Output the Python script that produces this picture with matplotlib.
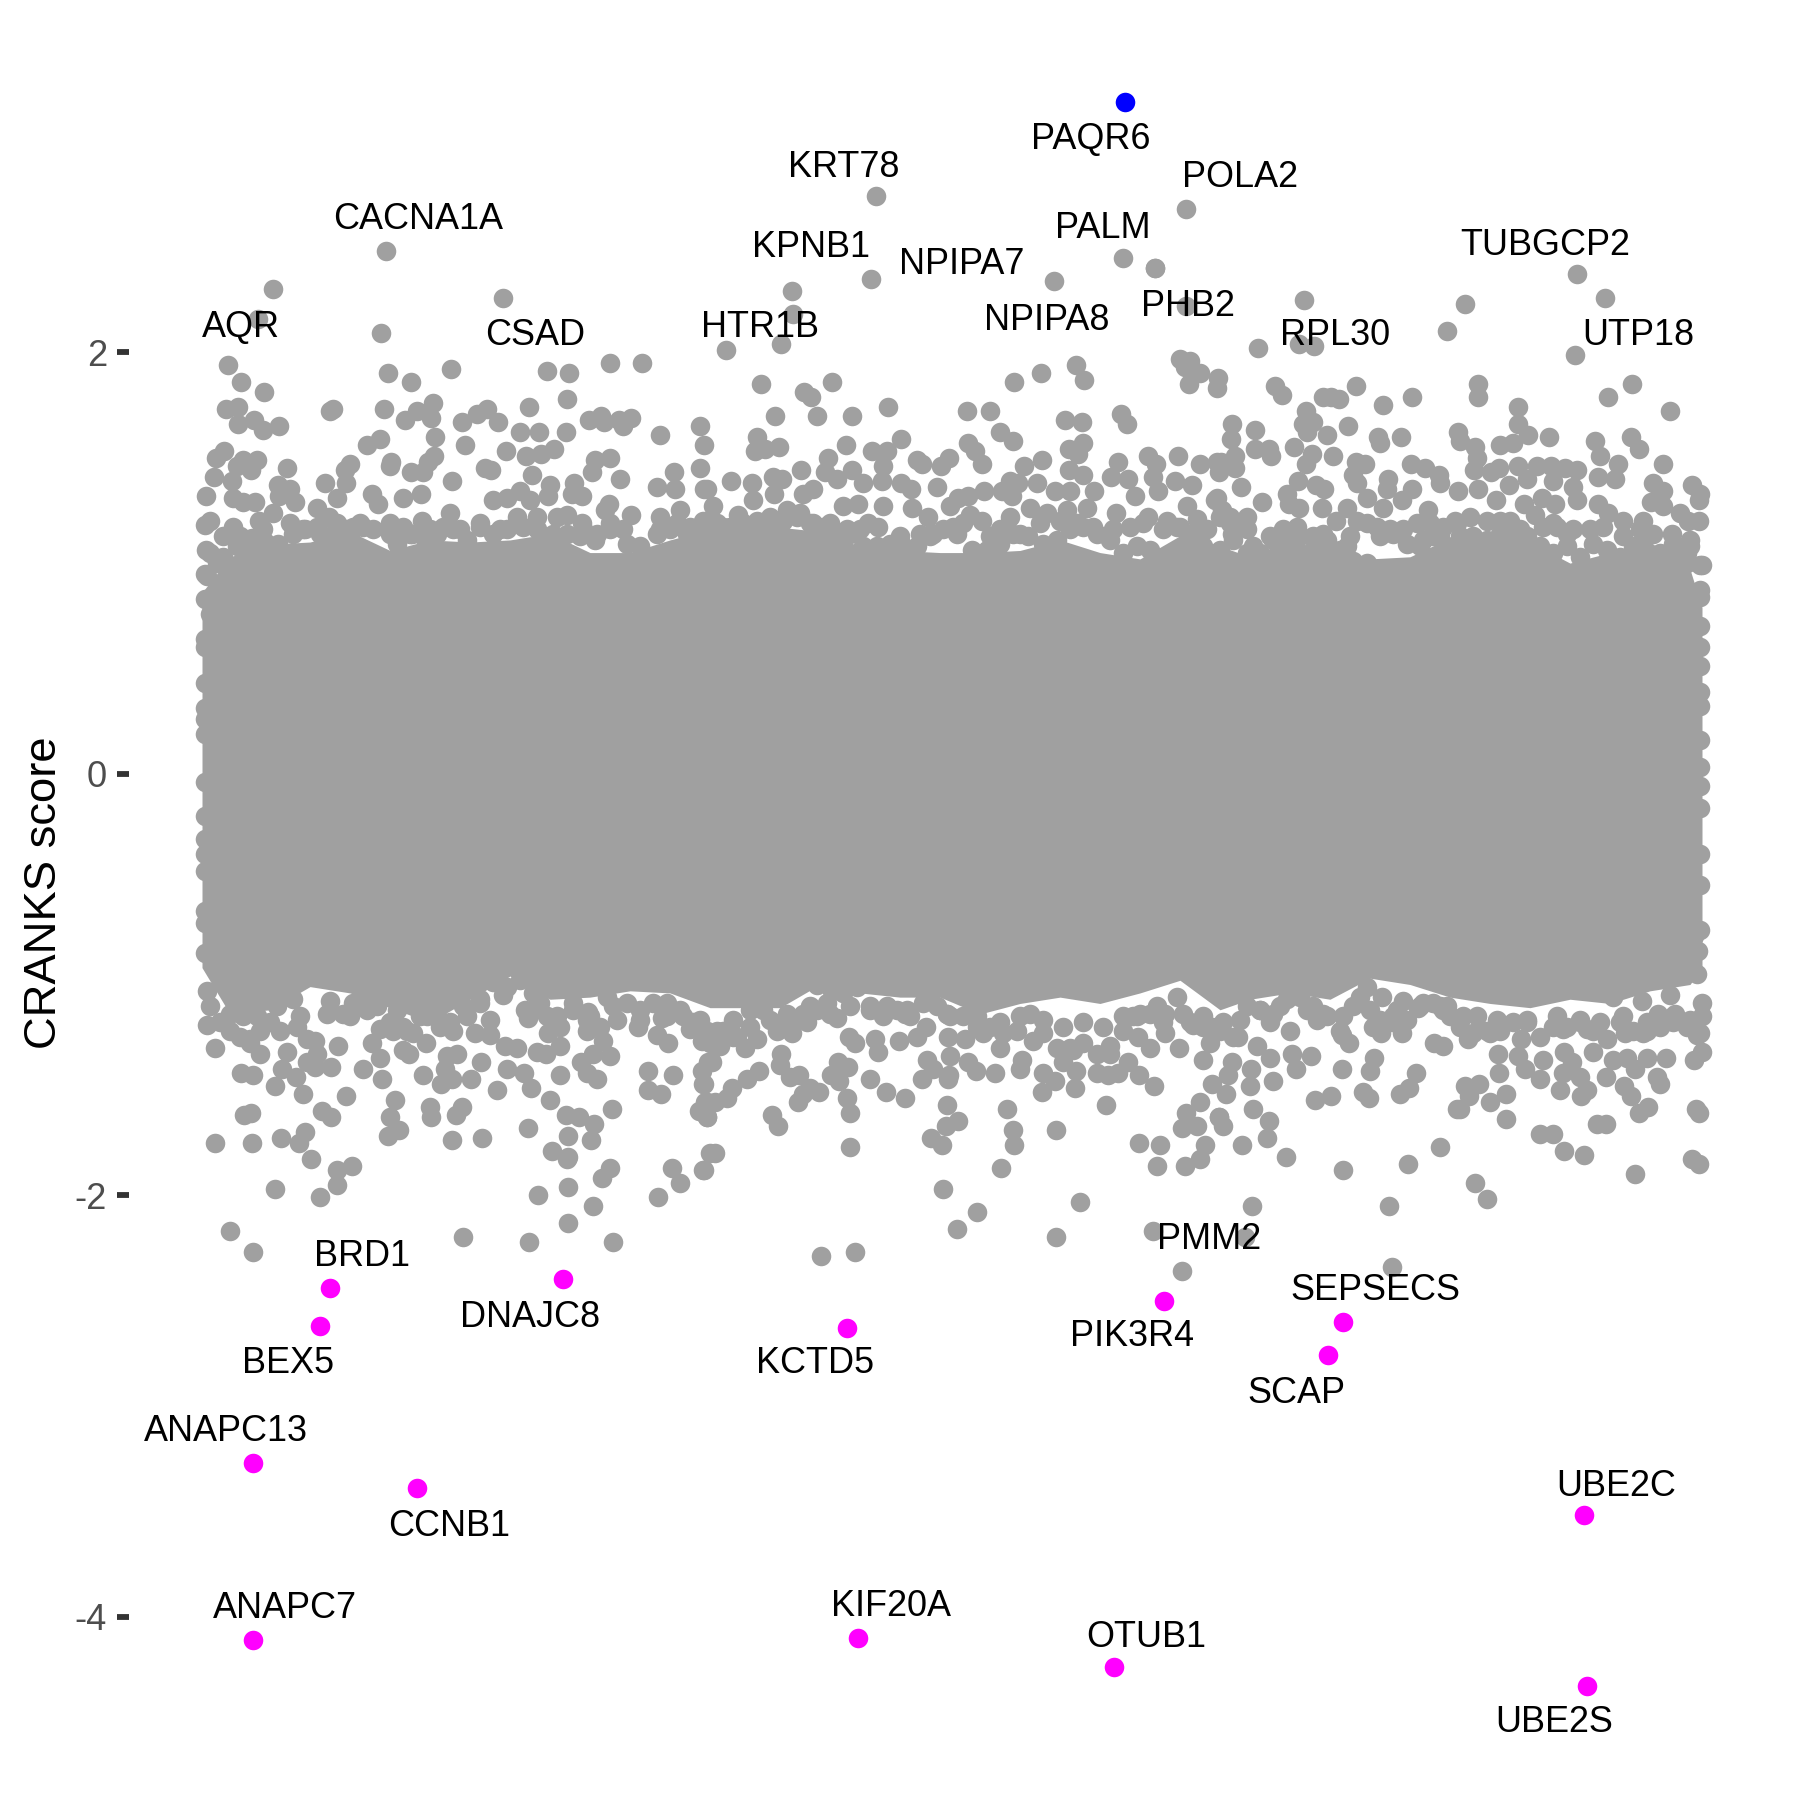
import matplotlib
matplotlib.use("Agg")
import numpy as np
import matplotlib.pyplot as plt

# x is the gene position along the (unlabelled) axis, y the CRANKS score
upper_left = [
    (273,2.30),(258,2.16),(503,2.26),(381,2.09),(228,1.94),(241,1.86),(264,1.81),(388,1.90),(411,1.86),(451,1.92),
    (547,1.91),(569,1.90),(610,1.95),(642,1.95),(567,1.78),(529,1.74),(226,1.73),(238,1.74),(254,1.68),(238,1.66),
    (263,1.63),(279,1.65),(330,1.72),(333,1.73),(384,1.73),(433,1.76),(417,1.72),(405,1.68),(431,1.69),(435,1.60),
    (462,1.67),(477,1.71),(487,1.73),(498,1.67),(520,1.62),(539,1.62),(566,1.62),(589,1.68),(601,1.70),(604,1.67),
    (619,1.68),(623,1.65),(631,1.69),(660,1.61),(700,1.65),(380,1.59),(367,1.56),(465,1.56),(704,1.56),(506,1.53),
    (526,1.51),(541,1.52),(554,1.54),(434,1.51),(224,1.53),(216,1.50),(243,1.49),(257,1.49),(237,1.46),(251,1.44),
    (287,1.45),(350,1.47),(345,1.44),(391,1.48),(390,1.46),(428,1.48),(423,1.43),(411,1.43),(485,1.45),(491,1.44),
    (532,1.42),(595,1.49),(610,1.50),(592,1.43),(620,1.40),(674,1.43),(700,1.45),(214,1.41),(232,1.39),(278,1.37),
    (325,1.38),(346,1.38),(452,1.39),(550,1.37),(574,1.38),(657,1.36),(675,1.35),(704,1.35),(206,1.32),(233,1.31),
    (243,1.29),(255,1.29),(290,1.35),(279,1.32),(295,1.29),(337,1.31),(372,1.33),(403,1.31),(421,1.33),(520,1.34),
    (493,1.30),(548,1.32),(572,1.33),(582,1.32),(609,1.28),(605,1.25),(631,1.23),(450,1.24),(530,1.30),(507,1.31),
    (378,1.28),(317,1.26),(329,1.22),(273,1.24),(259,1.20),(210,1.20),(205,1.18),(233,1.17),(422,1.20),(660,1.22),
    (680,1.25),(582,1.19),(252,1.12),(206,1.06),(217,1.00),(207,0.94),(207,0.83),(210,0.76),
]
upper_mid = [
    (792,2.29),(871,2.35),(1054,2.34),(1155,2.40),(793,2.18),(1186,2.22),(726,2.01),(781,2.04),(761,1.85),(832,1.86),
    (804,1.81),(811,1.79),(775,1.70),(817,1.70),(852,1.70),(888,1.74),(1014,1.86),(1041,1.90),(1076,1.94),(1084,1.87),
    (1180,1.97),(1190,1.96),(1185,1.93),(1200,1.90),(1189,1.85),(1217,1.83),(1218,1.88),(967,1.72),(990,1.72),(1065,1.68),
    (1082,1.67),(1121,1.71),(1127,1.66),(1000,1.62),(1013,1.58),(757,1.60),(755,1.53),(765,1.54),(779,1.55),(846,1.56),
    (872,1.53),(887,1.53),(901,1.59),(968,1.57),(975,1.53),(982,1.47),(917,1.49),(922,1.47),(949,1.50),(941,1.46),
    (1083,1.57),(1069,1.54),(1078,1.52),(1042,1.49),(1024,1.46),(1148,1.51),(1156,1.47),(1118,1.48),(1178,1.51),(1200,1.47),
    (1217,1.48),(801,1.44),(828,1.50),(773,1.41),(782,1.40),(731,1.39),(752,1.38),(707,1.35),(825,1.43),(837,1.40),
    (852,1.44),(863,1.38),(883,1.46),(882,1.39),(901,1.38),(911,1.35),(937,1.36),(984,1.34),(968,1.32),(1010,1.39),
    (1002,1.34),(1018,1.38),(1012,1.32),(1037,1.38),(1055,1.34),(1069,1.44),(1083,1.42),(1070,1.34),(1094,1.34),(1111,1.41),
    (1128,1.40),(1135,1.32),(1153,1.41),(1175,1.39),(1192,1.37),(1158,1.34),(1215,1.30),(713,1.27),(753,1.30),(774,1.33),
    (803,1.33),(813,1.35),(843,1.27),(858,1.28),(883,1.27),(912,1.26),(928,1.22),(950,1.27),(958,1.31),(1030,1.26),
    (1047,1.24),(1067,1.25),(1087,1.26),(1116,1.24),(1148,1.22),(1187,1.27),(1197,1.21),(982,1.20),(970,1.23),(1010,1.22),
    (868,1.19),(878,1.17),(738,1.23),(1167,1.20),(1198,1.13),
]
upper_right = [
    (1304,2.25),(1465,2.23),(1447,2.10),(1577,2.37),(1605,2.26),(1575,1.99),(1258,2.02),(1299,2.04),(1314,2.03),(1275,1.84),
    (1282,1.80),(1323,1.79),(1331,1.79),(1339,1.78),(1356,1.84),(1383,1.75),(1412,1.79),(1478,1.85),(1478,1.79),(1632,1.85),
    (1608,1.79),(1670,1.72),(1518,1.74),(1306,1.72),(1303,1.66),(1313,1.67),(1307,1.62),(1232,1.66),(1231,1.59),(1255,1.63),
    (1348,1.65),(1327,1.61),(1378,1.60),(1380,1.57),(1401,1.60),(1458,1.62),(1460,1.58),(1475,1.55),(1500,1.56),(1513,1.57),
    (1518,1.66),(1528,1.61),(1549,1.60),(1595,1.58),(1600,1.51),(1631,1.60),(1639,1.54),(1255,1.54),(1269,1.54),(1271,1.51),
    (1294,1.55),(1312,1.52),(1306,1.47),(1333,1.51),(1235,1.51),(1221,1.48),(1235,1.45),(1219,1.43),(1356,1.48),(1365,1.47),
    (1353,1.42),(1411,1.47),(1425,1.45),(1439,1.42),(1477,1.50),(1474,1.44),(1491,1.43),(1499,1.45),(1518,1.46),(1537,1.46),
    (1551,1.46),(1565,1.45),(1577,1.44),(1527,1.40),(1553,1.39),(1618,1.47),(1598,1.41),(1615,1.40),(1663,1.47),(1653,1.38),
    (1692,1.37),(1700,1.33),(1699,1.30),(1663,1.34),(1651,1.29),(1663,1.27),(1680,1.24),(1699,1.20),(1688,1.20),(1672,1.14),
    (1690,1.11),(1702,0.99),(1690,1.08),(1241,1.36),(1217,1.31),(1262,1.29),(1388,1.40),(1387,1.35),(1298,1.39),(1316,1.37),
    (1324,1.35),(1287,1.33),(1289,1.28),(1299,1.26),(1322,1.26),(1336,1.20),(1347,1.26),(1367,1.31),(1357,1.38),(1383,1.26),
    (1357,1.20),(1428,1.25),(1402,1.30),(1412,1.35),(1458,1.34),(1440,1.38),(1478,1.35),(1496,1.30),(1509,1.37),(1524,1.28),
    (1542,1.31),(1555,1.28),(1573,1.36),(1577,1.30),(1598,1.28),(1608,1.24),(1623,1.20),(1643,1.20),(1247,1.22),(1230,1.19),
    (1232,1.14),(1222,1.25),(1455,1.20),(1500,1.20),(1510,1.20),(1535,1.23),(1553,1.19),(1567,1.14),(1440,1.14),(1423,1.11),
    (1253,1.08),(1282,1.14),(1298,1.14),(1327,1.11),(1347,1.08),
]
top_extra = [(876,2.74),(386,2.48),(1186,2.68),(1123,2.45),(1155,2.40)]

lower_left = [
    (207,-1.03),(327,-1.14),(215,-1.30),(207,-1.19),(275,-1.48),(303,-1.52),(346,-1.53),(241,-1.42),(253,-1.43),(282,-1.40),
    (296,-1.44),(331,-1.39),(315,-1.39),(338,-1.29),(363,-1.40),(382,-1.45),(423,-1.43),(441,-1.47),(452,-1.45),(471,-1.45),
    (481,-1.37),(497,-1.50),(507,-1.40),(524,-1.42),(531,-1.49),(560,-1.43),(597,-1.45),(587,-1.42),(581,-1.37),(648,-1.41),
    (673,-1.43),(648,-1.50),(661,-1.52),(702,-1.41),(703,-1.47),(251,-1.61),(244,-1.62),(322,-1.60),(331,-1.63),(395,-1.55),
    (390,-1.63),(399,-1.69),(388,-1.72),(430,-1.58),(431,-1.63),(462,-1.58),(456,-1.62),(550,-1.55),(566,-1.62),(579,-1.63),
    (594,-1.66),(612,-1.59),(528,-1.68),(568,-1.72),(591,-1.74),(215,-1.75),(252,-1.75),(281,-1.73),(305,-1.70),(299,-1.75),
    (452,-1.74),(482,-1.73),(311,-1.83),(552,-1.79),(567,-1.83),(568,-1.82),(699,-1.60),(705,-1.56),(707,-1.63),(337,-1.88),
    (352,-1.86),(337,-1.95),(610,-1.87),(602,-1.92),(672,-1.87),(680,-1.94),(703,-1.88),(710,-1.80),(275,-1.97),(320,-2.01),
    (568,-1.96),(538,-2.00),(593,-2.05),(658,-2.01),(568,-2.13),(230,-2.17),(253,-2.27),(463,-2.20),(529,-2.22),(613,-2.22),
    (250,-1.26),(260,-1.33),(287,-1.32),(280,-1.22),(315,-1.27),(307,-1.37),(372,-1.28),(380,-1.35),(403,-1.31),(409,-1.33),
    (426,-1.28),(447,-1.34),(457,-1.33),(445,-1.40),(475,-1.23),(490,-1.17),(490,-1.24),(505,-1.29),(517,-1.30),(537,-1.32),
    (546,-1.33),(560,-1.29),(603,-1.27),(610,-1.34),(593,-1.33),(638,-1.20),(657,-1.24),(668,-1.28),(702,-1.27),(708,-1.37),
    (528,-1.16),(525,-1.12),(540,-1.09),(548,-1.23),(587,-1.22),(617,-1.17),(662,-1.16),(690,-1.21),(277,-1.10),(503,-1.05),
    (588,-1.13),
]
lower_mid = [
    (715,-1.80),(704,-1.88),(850,-1.77),(943,-1.97),(977,-2.08),(957,-2.16),(821,-2.29),(855,-2.27),(1001,-1.87),(1080,-2.03),
    (1056,-2.20),(1153,-2.17),(1182,-2.36),(1056,-1.69),(1014,-1.76),(1013,-1.69),(1007,-1.59),(1139,-1.75),(1160,-1.76),(1157,-1.86),
    (1185,-1.86),(1200,-1.83),(1205,-1.76),(1182,-1.68),(1197,-1.67),(1186,-1.61),(1200,-1.56),(1219,-1.63),(942,-1.76),(931,-1.73),
    (946,-1.67),(958,-1.65),(947,-1.57),(778,-1.67),(772,-1.62),(798,-1.56),(803,-1.52),(819,-1.51),(850,-1.61),(847,-1.54),
    (870,-1.45),(886,-1.51),(905,-1.54),(922,-1.45),(948,-1.45),(949,-1.43),(933,-1.40),(976,-1.41),(995,-1.42),(1020,-1.40),
    (1043,-1.42),(1055,-1.46),(1042,-1.51),(1075,-1.49),(1106,-1.57),(1154,-1.48),(1139,-1.43),(1179,-1.30),(1097,-1.42),(1108,-1.43),
    (1118,-1.42),(1128,-1.37),(1076,-1.41),(707,-1.63),(707,-1.56),(715,-1.56),(727,-1.54),(732,-1.49),(747,-1.45),(759,-1.41),
    (704,-1.47),(712,-1.37),(780,-1.38),(781,-1.33),(790,-1.44),(799,-1.43),(810,-1.49),(838,-1.37),(848,-1.39),(831,-1.43),
    (839,-1.46),(878,-1.32),(875,-1.26),(855,-1.28),(849,-1.25),(899,-1.27),(917,-1.25),(926,-1.20),(927,-1.36),(950,-1.34),
    (968,-1.37),(948,-1.25),(965,-1.26),(1000,-1.30),(1022,-1.36),(1033,-1.27),(1063,-1.37),(1073,-1.31),(1110,-1.29),(1138,-1.25),
    (1150,-1.30),(1165,-1.23),(1165,-1.14),(1193,-1.19),(1203,-1.36),(1212,-1.47),(1210,-1.28),(1212,-1.20),(745,-1.30),(757,-1.26),
    (733,-1.25),(720,-1.29),(777,-1.22),(792,-1.23),(807,-1.18),(837,-1.16),(817,-1.00),(832,-1.03),(852,-1.00),(905,-1.14),
    (947,-1.14),(983,-1.23),(1133,-1.15),
]
lower_right = [
    (1290,-1.22),(1257,-1.29),(1270,-1.35),(1292,-1.33),(1296,-1.40),(1311,-1.34),(1232,-1.37),(1228,-1.43),(1226,-1.52),(1251,-1.40),
    (1250,-1.48),(1273,-1.46),(1253,-1.59),(1219,-1.63),(1223,-1.67),(1269,-1.65),(1267,-1.73),(1242,-1.76),(1286,-1.82),(1343,-1.88),
    (1252,-2.05),(1408,-1.85),(1440,-1.77),(1389,-2.05),(1475,-1.94),(1487,-2.02),(1245,-2.20),(1392,-2.34),(1584,-1.81),(1564,-1.79),
    (1540,-1.71),(1553,-1.71),(1597,-1.66),(1606,-1.66),(1635,-1.90),(1692,-1.83),(1699,-1.85),(1696,-1.59),(1699,-1.61),(1639,-1.61),
    (1648,-1.58),(1506,-1.64),(1457,-1.59),(1460,-1.59),(1469,-1.53),(1490,-1.56),(1506,-1.52),(1465,-1.48),(1479,-1.47),(1443,-1.29),
    (1434,-1.28),(1416,-1.42),(1409,-1.49),(1400,-1.52),(1369,-1.54),(1363,-1.51),(1331,-1.53),(1315,-1.55),(1342,-1.40),(1370,-1.41),
    (1374,-1.35),(1560,-1.50),(1581,-1.53),(1587,-1.50),(1631,-1.53),(1624,-1.48),(1657,-1.44),(1660,-1.47),(1606,-1.44),(1540,-1.45),
    (1499,-1.42),(1525,-1.40),(1563,-1.42),(1580,-1.44),(1635,-1.40),(1498,-1.33),(1518,-1.34),(1543,-1.36),(1564,-1.32),(1572,-1.37),
    (1593,-1.32),(1613,-1.36),(1627,-1.35),(1647,-1.35),(1666,-1.35),(1694,-1.36),(1702,-1.32),(1349,-1.28),(1342,-1.24),(1317,-1.17),
    (1270,-1.18),(1238,-1.25),(1381,-1.23),(1402,-1.23),(1373,-1.20),(1392,-1.18),(1418,-1.11),(1468,-1.26),(1490,-1.23),(1521,-1.26),
    (1563,-1.21),(1587,-1.21),(1625,-1.23),(1643,-1.23),(1697,-1.24),(1702,-1.15),(1702,-1.09),(1697,-0.95),(1698,-0.84),(1694,-0.77),
    (1658,-1.14),(1675,-1.14),(1642,-1.08),(1670,-1.05),(1613,-1.06),(1477,-1.15),(1360,-1.06),(1382,-1.06),(1403,-1.08),(1440,-1.10),
    (1450,-1.15),
]

# points forming the scalloped rim of the dense band
rim_top_x = [210,223,237,252,265,278,293,305,320,333,347,360,373,390,397,412,423,437,453,467,480,493,507,523,537,553,567,580,595,610,627,640,657,670,687,700,
             710,723,740,755,768,783,797,810,823,837,850,863,877,890,903,917,930,943,957,972,987,1000,1013,1028,1043,1057,1070,1083,1097,1110,1123,1137,1150,1163,1177,1190,1203,
             1220,1233,1247,1260,1273,1287,1300,1313,1327,1340,1353,1367,1380,1393,1407,1420,1433,1447,1460,1473,1487,1500,1513,1527,1540,1553,1567,1580,1593,1607,1620,1633,1647,1660,1673,1687,1700]
rim_top_y = [1.05,1.03,1.08,1.07,1.10,1.09,1.14,1.16,1.14,1.14,1.16,1.19,1.16,1.14,1.09,1.14,1.13,1.14,1.16,1.11,1.17,1.14,1.16,1.17,1.16,1.14,1.14,1.13,1.11,1.16,1.09,1.08,1.14,1.16,1.14,1.17,
             1.17,1.17,1.20,1.17,1.19,1.20,1.22,1.19,1.17,1.14,1.14,1.08,1.08,1.09,1.08,1.08,1.13,1.16,1.14,1.06,1.06,1.09,1.14,1.13,1.09,1.11,1.16,1.17,1.14,1.11,1.05,1.08,1.06,1.16,1.17,1.13,1.08,
             1.06,1.11,1.05,1.05,1.11,1.13,1.13,1.06,1.08,1.06,1.01,1.00,1.13,1.14,1.09,1.08,1.13,1.08,1.13,1.13,1.11,1.14,1.13,1.13,1.08,1.05,1.08,1.03,1.09,1.06,1.03,1.08,1.13,1.05,1.03,1.00,0.87]
rim_low_x = [210,220,230,240,250,260,270,283,297,307,317,330,343,353,367,380,393,403,413,427,440,453,467,480,493,507,520,533,547,560,573,587,600,613,627,640,653,667,680,693,707,
             710,723,737,750,763,777,790,803,817,830,843,857,870,883,897,910,923,937,950,963,977,990,1003,1017,1030,1043,1057,1070,1083,1097,1110,1123,1137,1150,1163,1177,1190,1203,1217,
             1220,1233,1247,1260,1273,1287,1300,1313,1327,1340,1353,1367,1380,1393,1407,1420,1433,1447,1460,1473,1487,1500,1513,1527,1540,1553,1567,1580,1593,1607,1620,1633,1647,1660,1673,1687,1700]
rim_low_y = [-1.10,-1.18,-1.22,-1.25,-1.28,-1.22,-1.18,-1.06,-1.20,-1.26,-1.33,-1.08,-1.14,-1.09,-1.12,-1.21,-1.22,-1.20,-1.23,-1.15,-1.20,-1.22,-1.15,-1.09,-0.99,-1.01,-0.98,-1.04,-1.15,-1.20,-1.09,-1.17,-1.20,-1.10,-0.95,-1.17,-1.09,-1.15,-1.12,-1.18,-1.22,
             -1.28,-1.22,-1.25,-1.20,-1.12,-1.20,-1.18,-1.14,-1.12,-1.14,-1.04,-1.01,-1.12,-1.15,-1.12,-1.15,-1.09,-1.10,-1.15,-1.15,-1.20,-1.20,-1.23,-1.22,-1.14,-1.23,-1.30,-1.30,-1.28,-1.33,-1.33,-1.22,-1.15,-1.14,-1.18,-1.06,-1.18,-1.20,-1.22,
             -1.22,-1.25,-1.10,-1.12,-1.14,-1.07,-1.06,-1.10,-1.15,-1.22,-1.10,-1.01,-1.17,-1.15,-1.17,-1.10,-1.09,-1.10,-1.20,-1.23,-1.22,-1.22,-1.18,-1.18,-1.25,-1.20,-1.20,-1.18,-1.22,-1.26,-1.18,-1.22,-1.22,-1.20,-1.18,-1.20,-1.23]

# blobs just inside the rim that close most of the white gaps there
shoulder_top = [
    (223,1.13),(240,1.13),(263,1.16),(290,1.19),(303,1.16),(317,1.17),(337,1.19),(353,1.17),(363,1.17),(350,1.13),
    (390,1.19),(403,1.17),(410,1.14),(430,1.16),(443,1.17),(460,1.16),(480,1.19),(500,1.16),(517,1.22),(537,1.22),
    (557,1.22),(567,1.23),(583,1.16),(597,1.14),(610,1.19),(623,1.16),(660,1.16),(677,1.19),(690,1.17),(703,1.20),
    (717,1.19),(730,1.17),(743,1.19),(757,1.20),(770,1.22),(787,1.25),(800,1.24),(813,1.19),(830,1.19),(847,1.16),
    (860,1.16),(900,1.13),(920,1.14),(933,1.14),(953,1.17),(963,1.19),(990,1.13),(1000,1.16),(1020,1.14),(1040,1.19),
    (1060,1.20),(1077,1.19),(1093,1.17),(1113,1.16),(1130,1.17),(1143,1.19),(1167,1.19),(1180,1.17),(1193,1.14),(1207,1.16),
    (1220,1.22),(1230,1.22),(1247,1.16),(1270,1.13),(1283,1.16),(1297,1.17),(1313,1.13),(1323,1.14),(1350,1.13),(1367,1.19),
    (1377,1.17),(1390,1.16),(1403,1.16),(1417,1.19),(1430,1.19),(1443,1.17),(1457,1.19),(1470,1.22),(1487,1.20),(1503,1.17),
    (1520,1.16),(1543,1.17),(1557,1.17),(1573,1.16),(1590,1.16),(1603,1.17),(1623,1.13),(1640,1.16),(1653,1.14),(1673,1.09),
    (1687,1.05),
]
shoulder_low = [
    (230,-1.14),(243,-1.15),(257,-1.15),(300,-1.15),(293,-1.07),(350,-1.15),(363,-1.06),(377,-1.10),(390,-1.18),(407,-1.22),
    (397,-1.12),(420,-1.15),(437,-1.15),(450,-1.18),(463,-1.10),(480,-1.07),(537,-1.10),(557,-1.15),(573,-1.12),(590,-1.15),
    (607,-1.06),(627,-1.09),(640,-1.12),(667,-1.09),(683,-1.15),(700,-1.17),(717,-1.22),(733,-1.17),(750,-1.12),(770,-1.17),
    (787,-1.14),(810,-1.10),(827,-1.09),(850,-1.10),(870,-1.10),(887,-1.10),(907,-1.12),(927,-1.06),(947,-1.14),(977,-1.15),
    (1000,-1.18),(1020,-1.15),(1043,-1.17),(1063,-1.20),(1083,-1.18),(1103,-1.20),(1123,-1.15),(1140,-1.14),(1157,-1.10),(1183,-1.14),
    (1203,-1.15),(1223,-1.18),(1240,-1.17),(1260,-1.12),(1280,-1.10),(1307,-1.12),(1323,-1.14),(1343,-1.15),(1370,-1.12),(1397,-1.12),
    (1423,-1.09),(1443,-1.12),(1463,-1.15),(1497,-1.17),(1527,-1.17),(1557,-1.15),(1580,-1.17),(1600,-1.18),(1623,-1.15),(1647,-1.18),
    (1673,-1.15),(1690,-1.17),
]

# bumps along both sides of the dense band
left_edge_y = [0.95,0.83,0.64,0.60,0.43,0.31,0.26,0.19,-0.04,-0.20,-0.31,-0.38,-0.46,-0.65,-0.71,-0.85]
right_edge_y = [0.99,0.84,0.70,0.60,0.51,0.39,0.32,0.16,0.03,-0.06,-0.16,-0.38,-0.53,-0.74]
left_edge_x = 205
right_edge_x = 1700

# outline of the solid band where single points can no longer be told apart
band_x = [202,230,270,310,350,390,430,470,510,550,590,630,670,710,740,780,820,860,900,940,980,1020,
          1060,1100,1140,1180,1220,1250,1290,1330,1370,1410,1450,1490,1530,1570,1610,1650,1690,1702]
band_top = [0.86,1.03,1.09,1.10,1.15,1.06,1.11,1.10,1.11,1.14,1.05,1.05,1.11,1.16,1.16,1.17,1.15,1.08,1.06,1.05,1.05,1.06,
            1.11,1.05,1.02,1.13,1.08,1.03,1.11,1.05,1.02,1.03,1.12,1.13,1.10,1.00,1.05,1.10,0.97,0.79]
band_bottom = [-0.92,-1.14,-1.12,-1.01,-1.04,-1.11,-1.18,-1.07,-0.96,-1.07,-1.06,-1.03,-1.04,-1.11,-1.11,-1.11,-1.00,-1.04,-1.06,-1.06,-1.14,-1.09,
               -1.06,-1.09,-1.04,-0.98,-1.12,-1.07,-1.04,-1.07,-0.97,-1.00,-1.06,-1.09,-1.11,-1.07,-1.09,-1.03,-1.00,-0.92]

low_genes = ["BRD1","BEX5","DNAJC8","KCTD5","PIK3R4","SEPSECS","SCAP","ANAPC13","CCNB1","UBE2C","ANAPC7","KIF20A","OTUB1","UBE2S"]
low_x = [330,320,563,847,1164,1343,1328,253,417,1584,253,858,1114,1587]
low_y = [-2.44,-2.62,-2.40,-2.63,-2.50,-2.60,-2.76,-3.27,-3.39,-3.52,-4.11,-4.10,-4.24,-4.33]
high_gene_x = [1125]
high_gene_y = [3.19]

labels = ["PAQR6","KRT78","POLA2","CACNA1A","PALM","TUBGCP2","KPNB1","NPIPA7","PHB2","NPIPA8","AQR","HTR1B","CSAD","RPL30","UTP18",
          "PMM2","BRD1","SEPSECS","DNAJC8","PIK3R4","BEX5","KCTD5","SCAP","ANAPC13","UBE2C","CCNB1","ANAPC7","KIF20A","OTUB1","UBE2S"]
label_x = [1091,844,1240,418,1103,1545,811,962,1188,1047,241,760,535,1335,1638,
           1209,362,1375,530,1132,288,815,1296,226,1616,449,285,891,1146,1554]
label_y = [3.02,2.89,2.84,2.64,2.60,2.52,2.51,2.43,2.23,2.16,2.13,2.13,2.09,2.09,2.09,
           -2.20,-2.28,-2.44,-2.57,-2.66,-2.79,-2.79,-2.93,-3.11,-3.37,-3.56,-3.95,-3.94,-4.09,-4.49]
y_ticks = [2, 0, -2, -4]

plt.rcParams["font.family"] = ["Liberation Sans", "DejaVu Sans"]
GREY = "#A0A0A0"
SIZE = 22

fig = plt.figure(figsize=(6, 6), dpi=300)
# axes span 129..1790 px across and 20..1790 px down; one score unit is 210.7 px
ax = fig.add_axes([129 / 1800, 10 / 1800, 1661 / 1800, 1770 / 1800])
ax.set_xlim(129, 1790)
ax.set_ylim((773.8 - 1790) / 210.7, (773.8 - 20) / 210.7)

ax.fill_between(band_x, band_bottom, band_top, color=GREY, linewidth=0, zorder=1)

grey_pts = np.array(upper_left + upper_mid + upper_right + top_extra + lower_left + lower_mid + lower_right
                    + shoulder_top + shoulder_low)
ax.scatter(grey_pts[:, 0], grey_pts[:, 1], s=SIZE, color=GREY, linewidths=0, zorder=2)
ax.scatter(rim_top_x, rim_top_y, s=SIZE, color=GREY, linewidths=0, zorder=2)
ax.scatter(rim_low_x, rim_low_y, s=SIZE, color=GREY, linewidths=0, zorder=2)
ax.scatter([left_edge_x] * len(left_edge_y), left_edge_y, s=SIZE, color=GREY, linewidths=0, zorder=2)
ax.scatter([right_edge_x] * len(right_edge_y), right_edge_y, s=SIZE, color=GREY, linewidths=0, zorder=2)
ax.scatter(low_x, low_y, s=SIZE, color="#FF00FF", linewidths=0, zorder=3)
ax.scatter(high_gene_x, high_gene_y, s=SIZE, color="#0000FF", linewidths=0, zorder=3)

for name, x, y in zip(labels, label_x, label_y):
    ax.annotate(name, (x, y), xytext=(0, -0.55), textcoords="offset points",
                fontsize=8.65, color="black", ha="center", va="center", zorder=4)

for side in ax.spines.values():
    side.set_visible(False)
ax.set_xticks([])
ax.set_yticks(y_ticks)
ax.set_yticklabels([str(t) for t in y_ticks], fontsize=8.7, color="#4D4D4D")
ax.tick_params(axis="y", length=2.9, width=1.4, color="#333333", pad=2.4)
ax.set_ylabel("CRANKS score", fontsize=10.9, color="black")
ax.yaxis.set_label_coords(-64 / 1661, (1790 - 893) / 1770)

plt.savefig("out.png", dpi=300, facecolor="white")
plt.close()
